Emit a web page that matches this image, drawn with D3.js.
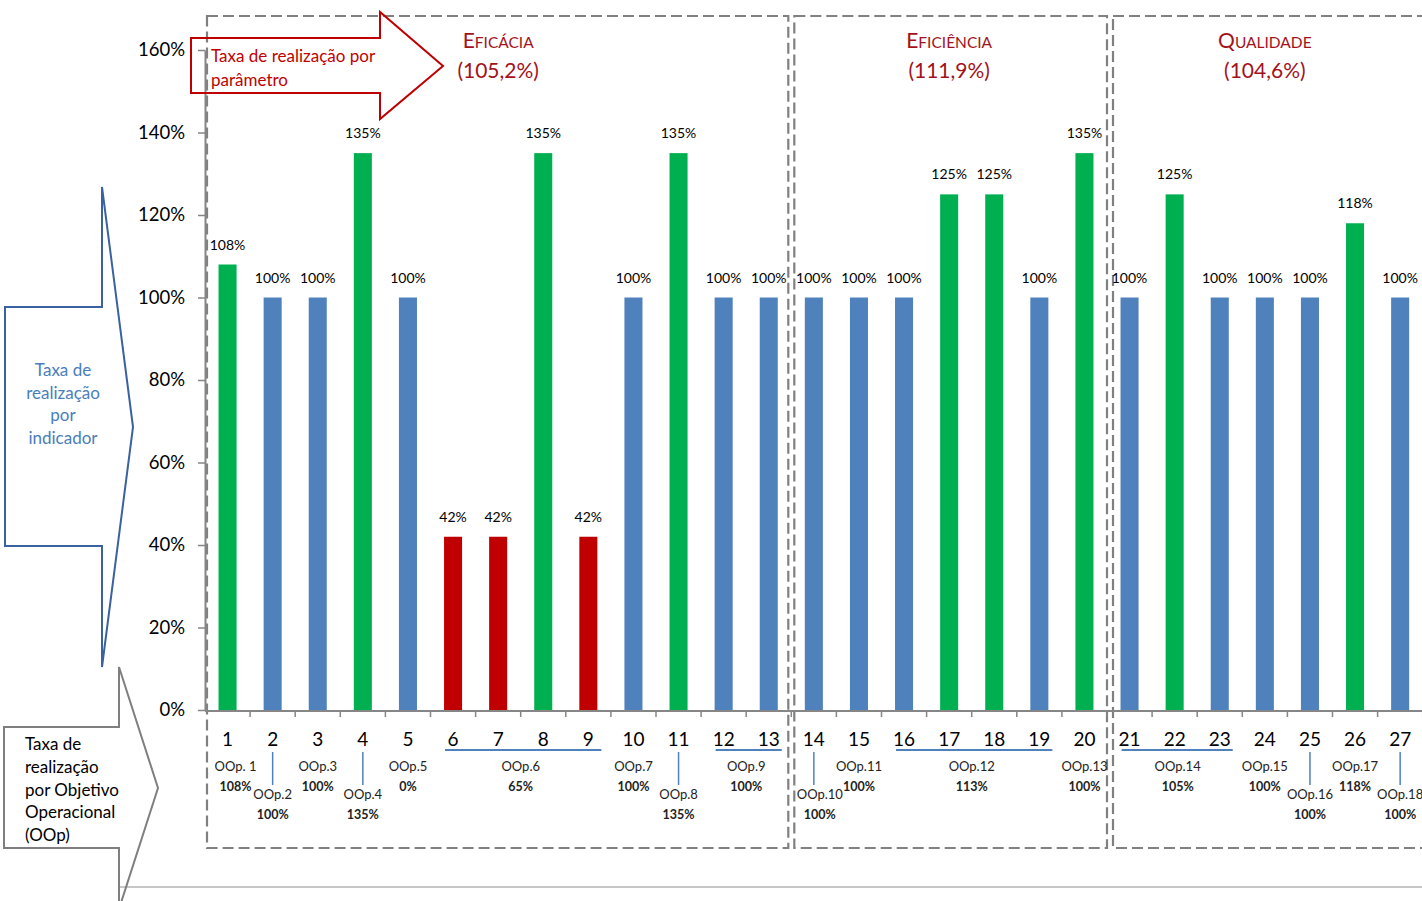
<!DOCTYPE html>
<html>
<head>
<meta charset="utf-8">
<script src="https://cdn.jsdelivr.net/npm/d3@7"></script>
<style>
  html, body { margin: 0; padding: 0; background: #fff; }
  svg { display: block; font-family: Lato, "Open Sans", sans-serif; }
</style>
</head>
<body>
<svg id="chart" width="1422" height="901"></svg>
<script>
// Indicators (x categories) and their achievement rate (%)
const indicators = ['1','2','3','4','5','6','7','8','9','10','11','12','13','14',
                    '15','16','17','18','19','20','21','22','23','24','25','26','27'];
const rates = [108,100,100,135,100,42,42,135,42,100,135,100,100,100,
               100,100,125,125,100,135,100,125,100,100,100,118,100];

// Parameters grouping the indicators
const parameters = ['Eficácia','Eficiência','Qualidade'];
const parameterRates = [105.2, 111.9, 104.6];
const parameterFirst = ['1','14','21'];
const parameterLast = ['13','20','27'];

// Operational objectives (OOp) and the indicators they span
const oopNames = ['OOp. 1','OOp.2','OOp.3','OOp.4','OOp.5','OOp.6','OOp.7','OOp.8','OOp.9',
                  'OOp.10','OOp.11','OOp.12','OOp.13','OOp.14','OOp.15','OOp.16','OOp.17','OOp.18'];
const oopRates = [108,100,100,135,0,65,100,135,100,100,100,113,100,105,100,100,118,100];
const oopFirst = ['1','2','3','4','5','6','10','11','12','14','15','16','20','21','24','25','26','27'];
const oopLast  = ['1','2','3','4','5','9','10','11','13','14','15','19','20','23','24','25','26','27'];

// Y axis ticks
const yTicks = [0,20,40,60,80,100,120,140,160];

// ---- layout ----
const svg = d3.select('#chart');
const plotLeft = 205, step = 45.1, axisY = 710;
const x = d3.scaleBand()
  .domain(indicators)
  .range([plotLeft, plotLeft + step * indicators.length])
  .paddingInner(0.6)
  .paddingOuter(0.3);
const y = d3.scaleLinear().domain([0, 160]).range([axisY, 50]);
const cx = d => x(d) + x.bandwidth() / 2;
const boundary = d => x(d) + x.bandwidth() + x.step() * x.paddingInner() / 2;
const leftEdge = d => x(d) - x.step() * x.paddingInner() / 2;

const colorFor = v => v > 100 ? '#00B050' : (v < 100 ? '#C00000' : '#4F81BD');
const pct = d3.format('.0f');
const comma = v => v.toFixed(1).replace('.', ',');

const axisGray = '#868686';
const titleRed = '#A3121C';

// Outer plot border line at the bottom
svg.append('line')
  .attr('x1', 120).attr('x2', 1422).attr('y1', 887).attr('y2', 887)
  .attr('stroke', '#B4B4B4').attr('stroke-width', 1.5);

// Dashed parameter boxes
const boxLeftGap = [2, 3, 6];
const boxRightGap = [3, 0, 0];
parameters.forEach((p, i) => {
  const l = leftEdge(parameterFirst[i]) + boxLeftGap[i];
  const r = i === parameters.length - 1 ? 1440 : boundary(parameterLast[i]) - boxRightGap[i];
  svg.append('rect')
    .attr('x', l).attr('y', 16).attr('width', r - l).attr('height', 832)
    .attr('fill', 'none').attr('stroke', '#808080').attr('stroke-width', 2.2)
    .attr('stroke-dasharray', '11,5');
  const mid = (cx(parameterFirst[i]) + cx(parameterLast[i])) / 2;
  const t = svg.append('text').attr('x', mid).attr('y', 48)
    .attr('text-anchor', 'middle').attr('fill', titleRed);
  t.append('tspan').attr('font-size', 21).text(p.charAt(0).toUpperCase());
  t.append('tspan').attr('font-size', 15.5).text(p.slice(1).toUpperCase());
  svg.append('text').attr('x', mid).attr('y', 78)
    .attr('text-anchor', 'middle').attr('fill', titleRed).attr('font-size', 21)
    .text('(' + comma(parameterRates[i]) + '%)');
});

// Y axis
const yAxis = svg.append('g')
  .attr('transform', `translate(${plotLeft},0)`)
  .call(d3.axisLeft(y).tickValues(yTicks).tickFormat(d => d + '%')
    .tickSize(7).tickSizeOuter(0).tickPadding(13));
yAxis.select('.domain').attr('stroke', axisGray).attr('stroke-width', 2);
yAxis.selectAll('.tick line').attr('stroke', axisGray).attr('stroke-width', 1.5);
yAxis.selectAll('.tick text').attr('font-size', 18.5).attr('fill', '#000')
  .attr('font-family', 'Lato, sans-serif');

// Bars
svg.append('g').selectAll('rect')
  .data(indicators)
  .join('rect')
  .attr('x', d => x(d))
  .attr('width', x.bandwidth())
  .attr('y', (d, i) => y(rates[i]))
  .attr('height', (d, i) => y(0) - y(rates[i]))
  .attr('fill', (d, i) => colorFor(rates[i]));

// Bar value labels
svg.append('g').selectAll('text')
  .data(indicators)
  .join('text')
  .attr('x', d => cx(d))
  .attr('y', (d, i) => y(rates[i]) - 15)
  .attr('text-anchor', 'middle')
  .attr('font-size', 14)
  .attr('fill', '#000')
  .text((d, i) => pct(rates[i]) + '%');

// X axis line with ticks between categories
const xAxis = svg.append('g').attr('transform', `translate(0,${axisY + 1})`);
xAxis.append('line')
  .attr('x1', plotLeft).attr('x2', 1422).attr('y1', 0).attr('y2', 0)
  .attr('stroke', axisGray).attr('stroke-width', 2);
xAxis.selectAll('line.tick')
  .data(indicators)
  .join('line')
  .attr('class', 'tick')
  .attr('x1', d => boundary(d)).attr('x2', d => boundary(d))
  .attr('y1', 0).attr('y2', 6)
  .attr('stroke', axisGray).attr('stroke-width', 1.5);
xAxis.selectAll('text')
  .data(indicators)
  .join('text')
  .attr('x', d => cx(d))
  .attr('y', 35)
  .attr('text-anchor', 'middle')
  .attr('font-size', 19)
  .attr('fill', '#000')
  .text(d => d);

// OOp labels under the axis
const lowered = new Set(['OOp.2','OOp.4','OOp.8','OOp.10','OOp.16','OOp.18']);
const nudge = { 'OOp. 1': 8, 'OOp.10': 6, 'OOp.14': 3 };
const linkBlue = '#4F81BD';
const oop = svg.append('g');
oopNames.forEach((name, i) => {
  const a = oopFirst[i], b = oopLast[i];
  const mx = (cx(a) + cx(b)) / 2;
  const lx = mx + (nudge[name] || 0);
  const low = lowered.has(name);
  if (a !== b) {
    oop.append('line')
      .attr('x1', cx(a) - 8).attr('x2', cx(b) + 13)
      .attr('y1', 750).attr('y2', 750)
      .attr('stroke', linkBlue).attr('stroke-width', 2);
  } else if (low) {
    oop.append('line')
      .attr('x1', mx).attr('x2', mx).attr('y1', 752).attr('y2', 785)
      .attr('stroke', linkBlue).attr('stroke-width', 1.5);
  }
  const y0 = low ? 799 : 771;
  oop.append('text').attr('x', lx).attr('y', y0)
    .attr('text-anchor', 'middle').attr('font-size', 13).attr('fill', '#222')
    .text(name);
  oop.append('text').attr('x', lx).attr('y', y0 + 20)
    .attr('text-anchor', 'middle').attr('font-size', 12.5).attr('font-weight', 'bold')
    .attr('fill', '#222')
    .text(pct(oopRates[i]) + '%');
});

// Callout arrows
// Parameter arrow (top, red)
svg.append('path')
  .attr('d', 'M191,38 H380 V12 L443,66 L380,119 V93 H191 Z')
  .attr('fill', 'none').attr('stroke', '#C00000').attr('stroke-width', 2);
svg.append('text').attr('x', 211).attr('y', 62)
  .attr('font-size', 17).attr('fill', '#C00000').text('Taxa de realização por');
svg.append('text').attr('x', 211).attr('y', 86)
  .attr('font-size', 17).attr('fill', '#C00000').text('parâmetro');

// Indicator arrow (left, blue)
svg.append('path')
  .attr('d', 'M5,307 H102 V187 L133,427 L102,667 V546 H5 Z')
  .attr('fill', 'none').attr('stroke', '#3A62A0').attr('stroke-width', 2);
['Taxa de', 'realização', 'por', 'indicador'].forEach((s, i) => {
  svg.append('text').attr('x', 63).attr('y', 376 + i * 22.7)
    .attr('text-anchor', 'middle').attr('font-size', 17).attr('fill', '#4A7EBB').text(s);
});

// OOp arrow (bottom-left, gray)
svg.append('path')
  .attr('d', 'M4,727 H119 V667 L158,788 L119,909 V848 H4 Z')
  .attr('fill', 'none').attr('stroke', '#7F7F7F').attr('stroke-width', 2);
['Taxa de', 'realização', 'por Objetivo', 'Operacional', '(OOp)'].forEach((s, i) => {
  svg.append('text').attr('x', 25).attr('y', 750 + i * 22.8)
    .attr('font-size', 17).attr('fill', '#000').text(s);
});
</script>
</body>
</html>
